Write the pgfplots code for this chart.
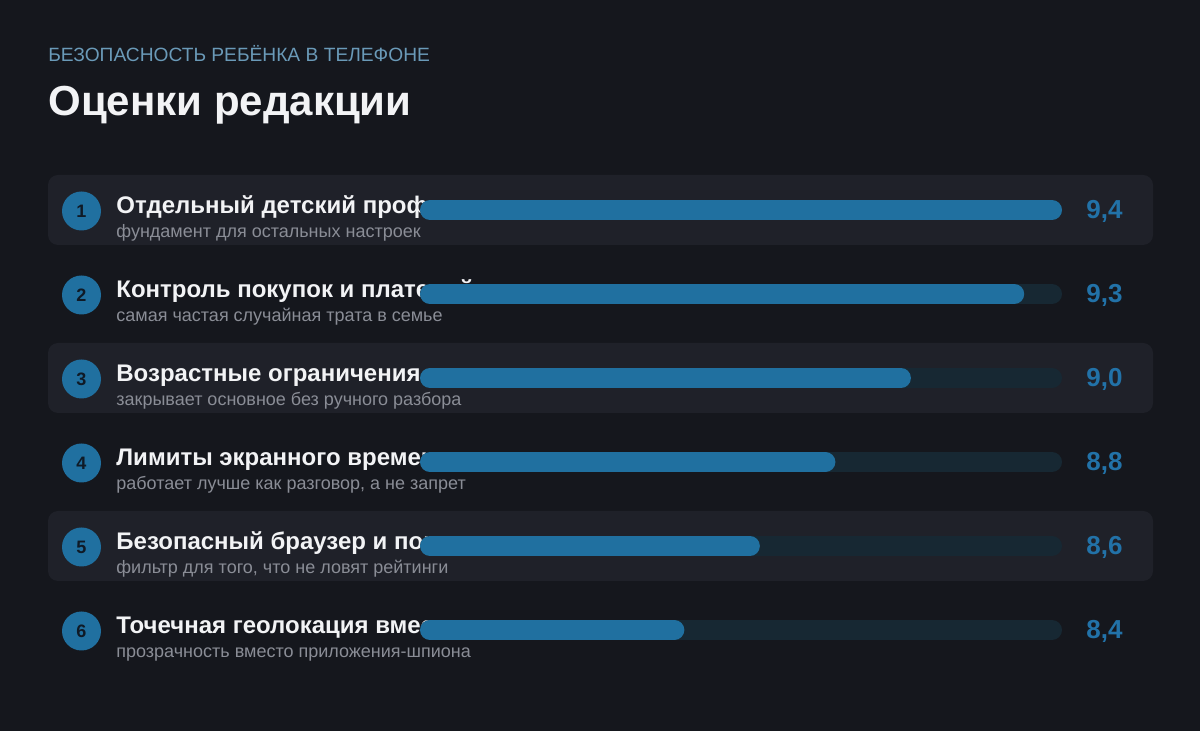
\documentclass[border=0pt]{standalone}
\usepackage{pgfplots}
\pgfplotsset{compat=1.18}
\usepackage{fontspec}
\setmainfont{Liberation Sans}
\definecolor{bg}{HTML}{15171D}
\definecolor{rowbg}{HTML}{1F2129}
\definecolor{track}{HTML}{172833}
\definecolor{barc}{HTML}{2070A0}
\definecolor{valc}{HTML}{2272A8}
\definecolor{numc}{HTML}{0F1A26}
\definecolor{subt}{HTML}{6A9AB8}
\definecolor{titc}{HTML}{F2F3F5}
\definecolor{labc}{HTML}{F2F3F5}
\definecolor{subl}{HTML}{8A8D96}
\begin{document}
\begin{tikzpicture}[x=0.5pt,y=-0.5pt]
\fill[bg] (0,0) rectangle (1200,731);
\foreach \r in {0,2,4}{
  \fill[rowbg,rounded corners=5pt] (48,{175+84*\r}) rectangle (1153,{245+84*\r});
}
\node[anchor=base west,text=subt,font=\fontsize{9.6pt}{11pt}\selectfont,inner sep=0pt] at (48,62) {БЕЗОПАСНОСТЬ РЕБЁНКА В ТЕЛЕФОНЕ};
\node[anchor=base west,text=titc,font=\fontsize{21pt}{25pt}\selectfont\bfseries,inner sep=0pt] at (48,116) {Оценки редакции};
\foreach \i/\lab/\sub/\val in {
 1/Отдельный детский профиль/фундамент для остальных настроек/9{,}4,
 2/Контроль покупок и платежей/самая частая случайная трата в семье/9{,}3,
 3/Возрастные ограничения контента/закрывает основное без ручного разбора/9{,}0,
 4/Лимиты экранного времени/работает лучше как разговор{,} а не запрет/8{,}8,
 5/Безопасный браузер и поиск/фильтр для того{,} что не ловят рейтинги/8{,}6,
 6/Точечная геолокация вместо слежки/прозрачность вместо приложения-шпиона/8{,}4}{
  \pgfmathsetmacro{\yc}{211+84*(\i-1)}
  \fill[barc] (81.5,\yc) circle[radius=9.75pt];
  \node[text=numc,font=\fontsize{9pt}{10pt}\selectfont\bfseries,inner sep=0pt] at (81.5,\yc) {\i};
  \node[anchor=base west,text=labc,font=\fontsize{12pt}{14pt}\selectfont\bfseries,inner sep=0pt] at (116,\yc+3) {\lab};
  \node[anchor=base west,text=subl,font=\fontsize{9pt}{11pt}\selectfont,inner sep=0pt] at (116,\yc+27) {\sub};
  \node[anchor=base west,text=valc,font=\fontsize{13pt}{15pt}\selectfont\bfseries,inner sep=0pt] at (1086,\yc+8) {\val};
}
\begin{axis}[
  at={(210pt,-84pt)}, anchor=north west,
  scale only axis, width=321pt, height=252pt,
  xmin=7.7, xmax=9.4, ymin=0.5, ymax=6.5, y dir=reverse,
  hide axis, clip=false,
]
\foreach \k in {1,...,6}{
  \addplot[track, line width=10pt, line cap=round, shorten <=5pt, shorten >=5pt] coordinates {(7.7,\k) (9.4,\k)};
}
\addplot[barc, line width=10pt, line cap=round, shorten <=5pt, shorten >=5pt] coordinates {(7.7,1) (9.4,1)};
\addplot[barc, line width=10pt, line cap=round, shorten <=5pt, shorten >=5pt] coordinates {(7.7,2) (9.3,2)};
\addplot[barc, line width=10pt, line cap=round, shorten <=5pt, shorten >=5pt] coordinates {(7.7,3) (9.0,3)};
\addplot[barc, line width=10pt, line cap=round, shorten <=5pt, shorten >=5pt] coordinates {(7.7,4) (8.8,4)};
\addplot[barc, line width=10pt, line cap=round, shorten <=5pt, shorten >=5pt] coordinates {(7.7,5) (8.6,5)};
\addplot[barc, line width=10pt, line cap=round, shorten <=5pt, shorten >=5pt] coordinates {(7.7,6) (8.4,6)};
\end{axis}
\end{tikzpicture}
\end{document}
